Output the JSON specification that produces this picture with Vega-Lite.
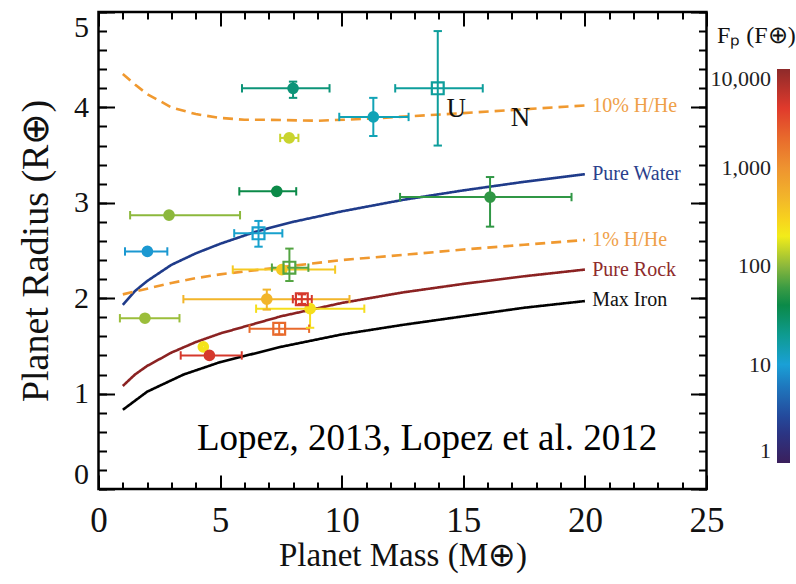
{
  "$schema": "https://vega.github.io/schema/vega-lite/v6.json",
  "width": 608,
  "height": 477,
  "autosize": {"type": "none"},
  "padding": {"left": 98.5, "top": 12, "right": 89.5, "bottom": 95},
  "background": "white",
  "config": {
    "view": {"stroke": "black", "strokeWidth": 2.5},
    "font": "Liberation Serif",
    "axis": {
      "grid": false,
      "domain": false,
      "ticks": true,
      "zindex": 1,
      "tickColor": "black",
      "tickWidth": 2,
      "labelFont": "Liberation Serif",
      "titleFont": "Liberation Serif",
      "titleFontWeight": "normal",
      "labelColor": "#111",
      "titleColor": "#111"
    },
    "legend": {
      "labelFont": "Liberation Serif",
      "titleFont": "Liberation Serif",
      "titleFontWeight": "normal",
      "labelColor": "#222",
      "titleColor": "#111",
      "padding": 0
    }
  },
  "datasets": {
    "curves": [
      {"model": "Max Iron", "mass": 1, "radius": 0.83},
      {"model": "Max Iron", "mass": 2, "radius": 1.02},
      {"model": "Max Iron", "mass": 3.5, "radius": 1.2},
      {"model": "Max Iron", "mass": 5, "radius": 1.33},
      {"model": "Max Iron", "mass": 7.5, "radius": 1.49},
      {"model": "Max Iron", "mass": 10, "radius": 1.62},
      {"model": "Max Iron", "mass": 12.5, "radius": 1.72},
      {"model": "Max Iron", "mass": 15, "radius": 1.81},
      {"model": "Max Iron", "mass": 17.5, "radius": 1.9},
      {"model": "Max Iron", "mass": 20, "radius": 1.97},
      {"model": "Pure Rock", "mass": 1, "radius": 1.08},
      {"model": "Pure Rock", "mass": 1.5, "radius": 1.2},
      {"model": "Pure Rock", "mass": 2, "radius": 1.29},
      {"model": "Pure Rock", "mass": 3, "radius": 1.43},
      {"model": "Pure Rock", "mass": 4, "radius": 1.54},
      {"model": "Pure Rock", "mass": 5, "radius": 1.63},
      {"model": "Pure Rock", "mass": 7.5, "radius": 1.81},
      {"model": "Pure Rock", "mass": 10, "radius": 1.95},
      {"model": "Pure Rock", "mass": 12.5, "radius": 2.06},
      {"model": "Pure Rock", "mass": 15, "radius": 2.15},
      {"model": "Pure Rock", "mass": 17.5, "radius": 2.23},
      {"model": "Pure Rock", "mass": 20, "radius": 2.3},
      {"model": "Pure Water", "mass": 1, "radius": 1.93},
      {"model": "Pure Water", "mass": 1.5, "radius": 2.075},
      {"model": "Pure Water", "mass": 2, "radius": 2.18},
      {"model": "Pure Water", "mass": 3, "radius": 2.35},
      {"model": "Pure Water", "mass": 4, "radius": 2.47},
      {"model": "Pure Water", "mass": 5, "radius": 2.57},
      {"model": "Pure Water", "mass": 6.5, "radius": 2.7},
      {"model": "Pure Water", "mass": 8, "radius": 2.8},
      {"model": "Pure Water", "mass": 10, "radius": 2.91},
      {"model": "Pure Water", "mass": 12.5, "radius": 3.03},
      {"model": "Pure Water", "mass": 15, "radius": 3.13},
      {"model": "Pure Water", "mass": 17.5, "radius": 3.22},
      {"model": "Pure Water", "mass": 20, "radius": 3.3},
      {"model": "1% H/He", "mass": 1, "radius": 2.04},
      {"model": "1% H/He", "mass": 2, "radius": 2.1},
      {"model": "1% H/He", "mass": 3, "radius": 2.16},
      {"model": "1% H/He", "mass": 4, "radius": 2.21},
      {"model": "1% H/He", "mass": 5, "radius": 2.25},
      {"model": "1% H/He", "mass": 6, "radius": 2.28},
      {"model": "1% H/He", "mass": 8, "radius": 2.34},
      {"model": "1% H/He", "mass": 10, "radius": 2.4},
      {"model": "1% H/He", "mass": 12.8, "radius": 2.46},
      {"model": "1% H/He", "mass": 15, "radius": 2.51},
      {"model": "1% H/He", "mass": 17.5, "radius": 2.56},
      {"model": "1% H/He", "mass": 20, "radius": 2.61},
      {"model": "10% H/He", "mass": 1, "radius": 4.35},
      {"model": "10% H/He", "mass": 1.5, "radius": 4.24},
      {"model": "10% H/He", "mass": 2, "radius": 4.14},
      {"model": "10% H/He", "mass": 3, "radius": 4.0},
      {"model": "10% H/He", "mass": 4, "radius": 3.93},
      {"model": "10% H/He", "mass": 5, "radius": 3.89},
      {"model": "10% H/He", "mass": 6, "radius": 3.87},
      {"model": "10% H/He", "mass": 7, "radius": 3.87},
      {"model": "10% H/He", "mass": 9, "radius": 3.86},
      {"model": "10% H/He", "mass": 11, "radius": 3.88},
      {"model": "10% H/He", "mass": 13, "radius": 3.91},
      {"model": "10% H/He", "mass": 15, "radius": 3.94},
      {"model": "10% H/He", "mass": 17.5, "radius": 3.98},
      {"model": "10% H/He", "mass": 20, "radius": 4.02}
    ],
    "curveLabels": [
      {"model": "10% H/He", "mass": 20.3, "radius": 4.01},
      {"model": "Pure Water", "mass": 20.3, "radius": 3.3},
      {"model": "1% H/He", "mass": 20.3, "radius": 2.61},
      {"model": "Pure Rock", "mass": 20.3, "radius": 2.3},
      {"model": "Max Iron", "mass": 20.3, "radius": 1.98}
    ],
    "planets": [
      {"mass": 8.0, "radius": 4.2, "mlo": 5.9, "mhi": 9.5, "rlo": 4.1, "rhi": 4.27, "flux": 25, "kind": "filled"},
      {"mass": 13.95, "radius": 4.2, "mlo": 12.2, "mhi": 15.8, "rlo": 3.6, "rhi": 4.8, "flux": 18, "kind": "open"},
      {"mass": 11.3, "radius": 3.9, "mlo": 9.9, "mhi": 12.75, "rlo": 3.7, "rhi": 4.1, "flux": 14, "kind": "filled"},
      {"mass": 7.84, "radius": 3.68, "mlo": 7.47, "mhi": 8.22, "rlo": null, "rhi": null, "flux": 150, "kind": "filled"},
      {"mass": 7.33, "radius": 3.12, "mlo": 5.79, "mhi": 8.13, "rlo": null, "rhi": null, "flux": 40, "kind": "filled"},
      {"mass": 16.1, "radius": 3.06, "mlo": 12.4, "mhi": 19.45, "rlo": 2.75, "rhi": 3.27, "flux": 55, "kind": "filled"},
      {"mass": 2.9, "radius": 2.87, "mlo": 1.3, "mhi": 5.82, "rlo": null, "rhi": null, "flux": 100, "kind": "filled"},
      {"mass": 6.58, "radius": 2.68, "mlo": 5.58, "mhi": 7.56, "rlo": 2.54, "rhi": 2.81, "flux": 11, "kind": "open"},
      {"mass": 2.01, "radius": 2.49, "mlo": 1.09, "mhi": 2.83, "rlo": null, "rhi": null, "flux": 9, "kind": "filled"},
      {"mass": 7.54, "radius": 2.3, "mlo": 5.52, "mhi": 9.73, "rlo": null, "rhi": null, "flux": 350, "kind": "filled"},
      {"mass": 7.85, "radius": 2.32, "mlo": 7.13, "mhi": 8.63, "rlo": 2.18, "rhi": 2.52, "flux": 70, "kind": "open"},
      {"mass": 6.92, "radius": 1.99, "mlo": 3.49, "mhi": 10.32, "rlo": 1.88, "rhi": 2.09, "flux": 500, "kind": "filled"},
      {"mass": 8.7, "radius": 1.89, "mlo": 6.48, "mhi": 10.93, "rlo": 1.69, "rhi": 1.92, "flux": 250, "kind": "filled"},
      {"mass": 8.36, "radius": 1.99, "mlo": 7.99, "mhi": 8.77, "rlo": 1.94, "rhi": 2.04, "flux": 4500, "kind": "open"},
      {"mass": 7.43, "radius": 1.68, "mlo": 6.21, "mhi": 8.66, "rlo": 1.62, "rhi": 1.74, "flux": 2000, "kind": "open"},
      {"mass": 1.91, "radius": 1.79, "mlo": 0.88, "mhi": 3.33, "rlo": null, "rhi": null, "flux": 110, "kind": "filled"},
      {"mass": 4.31, "radius": 1.49, "mlo": null, "mhi": null, "rlo": null, "rhi": null, "flux": 230, "kind": "filled"},
      {"mass": 4.56, "radius": 1.4, "mlo": 3.38, "mhi": 5.89, "rlo": null, "rhi": null, "flux": 4500, "kind": "filled"}
    ],
    "notes": [
      {"text": "U", "mass": 14.71, "radius": 3.98},
      {"text": "N", "mass": 17.35, "radius": 3.89}
    ],
    "citation": [
      {"text": "Lopez, 2013, Lopez et al. 2012", "mass": 4.05, "radius": 0.41}
    ]
  },
  "layer": [
    {
      "data": {"name": "curves"},
      "mark": {"type": "line", "strokeWidth": 2.6},
      "encoding": {
        "x": {"field": "mass", "type": "quantitative", "scale": {"domain": [0, 25], "nice": false, "zero": false},
          "axis": {"orient": "bottom", "values": [0, 5, 10, 15, 20, 25], "offset": -14, "tickSize": 14, "labelFontSize": 35, "labelPadding": 14, "labelFlush": false, "title": "Planet Mass (M⊕)", "titleFontSize": 33, "titlePadding": 1}},
        "y": {"field": "radius", "type": "quantitative", "scale": {"domain": [0, 5], "nice": false, "zero": false},
          "axis": {"orient": "left", "values": [0, 1, 2, 3, 4, 5], "offset": -16, "tickSize": 16, "labelFontSize": 30, "labelPadding": 10, "labelFlush": true, "title": "Planet Radius (R⊕)", "titleFontSize": 38, "titlePadding": 18}},
        "stroke": {"field": "model", "type": "nominal", "legend": null,
          "scale": {"domain": ["10% H/He", "Pure Water", "1% H/He", "Pure Rock", "Max Iron"], "range": ["#F0992F", "#1F3B8A", "#F0992F", "#8B2222", "#000000"]}},
        "strokeDash": {"field": "model", "type": "nominal", "legend": null,
          "scale": {"domain": ["10% H/He", "Pure Water", "1% H/He", "Pure Rock", "Max Iron"], "range": [[10, 6], [1, 0], [10, 6], [1, 0], [1, 0]]}}
      }
    },
    {
      "data": {"name": "curveLabels"},
      "mark": {"type": "text", "align": "left", "baseline": "middle", "fontSize": 20, "font": "Liberation Serif"},
      "encoding": {
        "x": {"field": "mass", "type": "quantitative",
          "axis": {"orient": "bottom", "values": [0,1,2,3,4,5,6,7,8,9,10,11,12,13,14,15,16,17,18,19,20,21,22,23,24,25], "offset": -7, "tickSize": 7, "labels": false, "title": null}},
        "y": {"field": "radius", "type": "quantitative",
          "axis": {"orient": "left", "values": [0,0.2,0.4,0.6,0.8,1,1.2,1.4,1.6,1.8,2,2.2,2.4,2.6,2.8,3,3.2,3.4,3.6,3.8,4,4.2,4.4,4.6,4.8,5], "offset": -8, "tickSize": 8, "labels": false, "title": null}},
        "text": {"field": "model"},
        "fill": {"field": "model", "type": "nominal", "legend": null,
          "scale": {"domain": ["10% H/He", "Pure Water", "1% H/He", "Pure Rock", "Max Iron"], "range": ["#EFA048", "#2B3F8C", "#EFA048", "#8E2B2B", "#111111"]}}
      }
    },
    {
      "data": {"name": "planets"},
      "transform": [{"filter": "isValid(datum.mlo)"}],
      "mark": {"type": "rule", "strokeWidth": 2},
      "encoding": {
        "x": {"field": "mlo", "type": "quantitative",
          "axis": {"orient": "top", "values": [0, 5, 10, 15, 20, 25], "offset": -14, "tickSize": 14, "labels": false, "title": null}},
        "x2": {"field": "mhi"},
        "y": {"field": "radius", "type": "quantitative",
          "axis": {"orient": "right", "values": [0, 1, 2, 3, 4, 5], "offset": -16, "tickSize": 16, "labels": false, "title": null}},
        "color": {"field": "flux", "type": "quantitative",
          "scale": {"type": "log", "domain": [1, 2, 3, 6, 10, 15, 25, 40, 60, 100, 130, 200, 300, 500, 1000, 2000, 4000, 10000],
            "range": ["#3B1F5C", "#2B3584", "#244A9C", "#1E78BE", "#1AA0D6", "#0FA4B0", "#0D9478", "#0B8A48", "#3A9B44", "#8CB83C", "#B5C838", "#F2EC1A", "#F7D21E", "#F2B52A", "#EE9330", "#E86A2C", "#E03A2C", "#8E2A2A"],
            "interpolate": "rgb"},
          "legend": {"type": "gradient", "title": "Fₚ (F⊕)", "orient": "none", "legendX": 618.5, "legendY": 12, "direction": "vertical",
            "gradientLength": 394, "gradientThickness": 13, "gradientStrokeWidth": 0,
            "values": [1, 10, 100, 1000, 10000], "format": ",", "labelFontSize": 22, "labelOffset": 41, "labelAlign": "right", "labelFlush": true,
            "titleFontSize": 24, "titleAnchor": "start", "titleAlign": "left", "titlePadding": 21,
            "encode": {"gradient": {"update": {"x": {"value": 60}}}, "labels": {"update": {"align": {"value": "right"}}}}}}
      }
    },
    {
      "data": {"name": "planets"},
      "transform": [{"filter": "isValid(datum.rlo)"}],
      "mark": {"type": "rule", "strokeWidth": 2},
      "encoding": {
        "x": {"field": "mass", "type": "quantitative",
          "axis": {"orient": "top", "values": [0,1,2,3,4,5,6,7,8,9,10,11,12,13,14,15,16,17,18,19,20,21,22,23,24,25], "offset": -7, "tickSize": 7, "labels": false, "title": null}},
        "y": {"field": "rlo", "type": "quantitative",
          "axis": {"orient": "right", "values": [0,0.2,0.4,0.6,0.8,1,1.2,1.4,1.6,1.8,2,2.2,2.4,2.6,2.8,3,3.2,3.4,3.6,3.8,4,4.2,4.4,4.6,4.8,5], "offset": -8, "tickSize": 8, "labels": false, "title": null}},
        "y2": {"field": "rhi"},
        "color": {"field": "flux", "type": "quantitative",
          "scale": {"type": "log", "domain": [1, 2, 3, 6, 10, 15, 25, 40, 60, 100, 130, 200, 300, 500, 1000, 2000, 4000, 10000],
            "range": ["#3B1F5C", "#2B3584", "#244A9C", "#1E78BE", "#1AA0D6", "#0FA4B0", "#0D9478", "#0B8A48", "#3A9B44", "#8CB83C", "#B5C838", "#F2EC1A", "#F7D21E", "#F2B52A", "#EE9330", "#E86A2C", "#E03A2C", "#8E2A2A"],
            "interpolate": "rgb"}}
      }
    },
    {
      "data": {"name": "planets"},
      "transform": [{"fold": ["mlo", "mhi"], "as": ["end", "value"]}, {"filter": "isValid(datum.value)"}],
      "mark": {"type": "point", "shape": "stroke", "angle": 90, "filled": false, "size": 70, "strokeWidth": 2, "opacity": 1},
      "encoding": {
        "x": {"field": "value", "type": "quantitative", "axis": null},
        "y": {"field": "radius", "type": "quantitative", "axis": null},
        "color": {"field": "flux", "type": "quantitative",
          "scale": {"type": "log", "domain": [1, 2, 3, 6, 10, 15, 25, 40, 60, 100, 130, 200, 300, 500, 1000, 2000, 4000, 10000],
            "range": ["#3B1F5C", "#2B3584", "#244A9C", "#1E78BE", "#1AA0D6", "#0FA4B0", "#0D9478", "#0B8A48", "#3A9B44", "#8CB83C", "#B5C838", "#F2EC1A", "#F7D21E", "#F2B52A", "#EE9330", "#E86A2C", "#E03A2C", "#8E2A2A"],
            "interpolate": "rgb"}}
      }
    },
    {
      "data": {"name": "planets"},
      "transform": [{"fold": ["rlo", "rhi"], "as": ["end", "value"]}, {"filter": "isValid(datum.value)"}],
      "mark": {"type": "point", "shape": "stroke", "angle": 0, "filled": false, "size": 70, "strokeWidth": 2, "opacity": 1},
      "encoding": {
        "x": {"field": "mass", "type": "quantitative", "axis": null},
        "y": {"field": "value", "type": "quantitative", "axis": null},
        "color": {"field": "flux", "type": "quantitative",
          "scale": {"type": "log", "domain": [1, 2, 3, 6, 10, 15, 25, 40, 60, 100, 130, 200, 300, 500, 1000, 2000, 4000, 10000],
            "range": ["#3B1F5C", "#2B3584", "#244A9C", "#1E78BE", "#1AA0D6", "#0FA4B0", "#0D9478", "#0B8A48", "#3A9B44", "#8CB83C", "#B5C838", "#F2EC1A", "#F7D21E", "#F2B52A", "#EE9330", "#E86A2C", "#E03A2C", "#8E2A2A"],
            "interpolate": "rgb"}}
      }
    },
    {
      "data": {"name": "planets"},
      "transform": [{"filter": "datum.kind === 'filled'"}],
      "mark": {"type": "point", "shape": "circle", "filled": false, "size": 30, "strokeWidth": 6.2, "opacity": 1},
      "encoding": {
        "x": {"field": "mass", "type": "quantitative", "axis": null},
        "y": {"field": "radius", "type": "quantitative", "axis": null},
        "color": {"field": "flux", "type": "quantitative",
          "scale": {"type": "log", "domain": [1, 2, 3, 6, 10, 15, 25, 40, 60, 100, 130, 200, 300, 500, 1000, 2000, 4000, 10000],
            "range": ["#3B1F5C", "#2B3584", "#244A9C", "#1E78BE", "#1AA0D6", "#0FA4B0", "#0D9478", "#0B8A48", "#3A9B44", "#8CB83C", "#B5C838", "#F2EC1A", "#F7D21E", "#F2B52A", "#EE9330", "#E86A2C", "#E03A2C", "#8E2A2A"],
            "interpolate": "rgb"}}
      }
    },
    {
      "data": {"name": "planets"},
      "transform": [{"filter": "datum.kind === 'open'"}],
      "mark": {"type": "point", "shape": "square", "filled": false, "size": 140, "strokeWidth": 2.2, "opacity": 1},
      "encoding": {
        "x": {"field": "mass", "type": "quantitative", "axis": null},
        "y": {"field": "radius", "type": "quantitative", "axis": null},
        "color": {"field": "flux", "type": "quantitative",
          "scale": {"type": "log", "domain": [1, 2, 3, 6, 10, 15, 25, 40, 60, 100, 130, 200, 300, 500, 1000, 2000, 4000, 10000],
            "range": ["#3B1F5C", "#2B3584", "#244A9C", "#1E78BE", "#1AA0D6", "#0FA4B0", "#0D9478", "#0B8A48", "#3A9B44", "#8CB83C", "#B5C838", "#F2EC1A", "#F7D21E", "#F2B52A", "#EE9330", "#E86A2C", "#E03A2C", "#8E2A2A"],
            "interpolate": "rgb"}}
      }
    },
    {
      "data": {"name": "notes"},
      "mark": {"type": "text", "align": "center", "baseline": "middle", "fontSize": 27, "font": "Liberation Serif", "color": "#111"},
      "encoding": {
        "x": {"field": "mass", "type": "quantitative", "axis": null},
        "y": {"field": "radius", "type": "quantitative", "axis": null},
        "text": {"field": "text"}
      }
    },
    {
      "data": {"name": "citation"},
      "mark": {"type": "text", "align": "left", "baseline": "alphabetic", "fontSize": 37, "font": "Liberation Serif", "color": "#000"},
      "encoding": {
        "x": {"field": "mass", "type": "quantitative", "axis": null},
        "y": {"field": "radius", "type": "quantitative", "axis": null},
        "text": {"field": "text"}
      }
    }
  ],
  "resolve": {"axis": {"x": "independent", "y": "independent"}}
}
